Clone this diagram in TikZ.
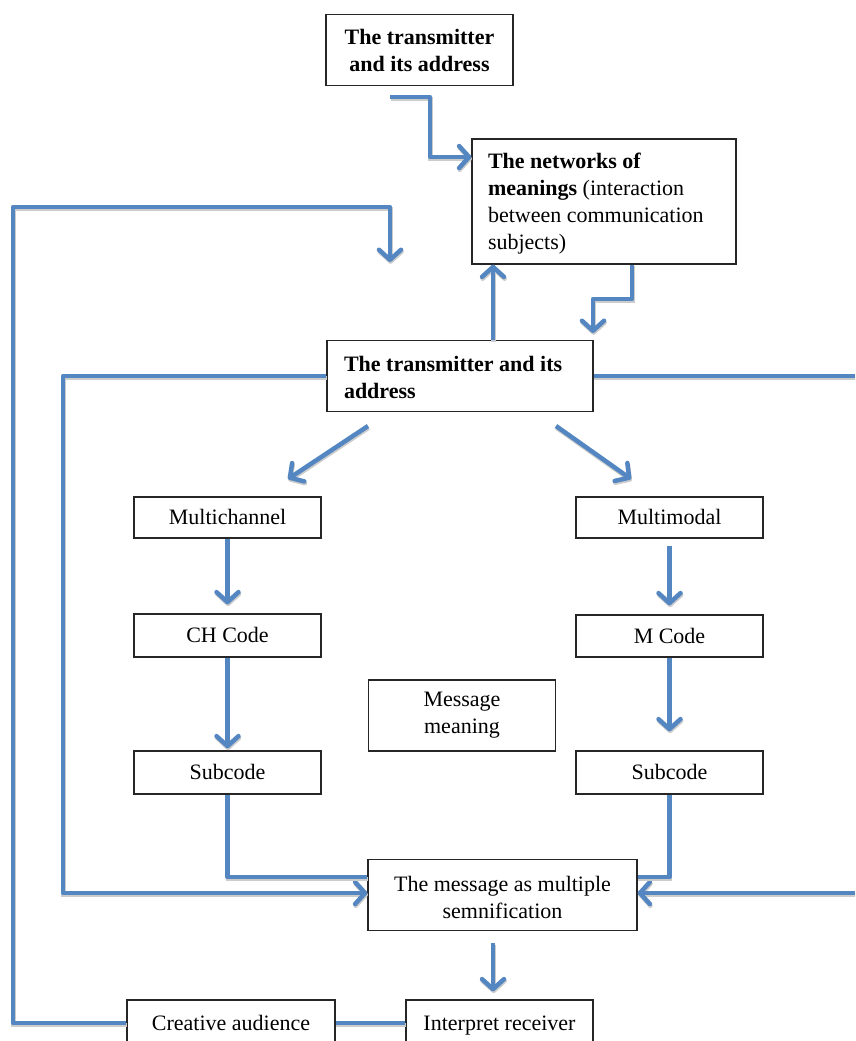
\documentclass[tikz,border=0pt]{standalone}
\usepackage{fontspec}
\setmainfont{Liberation Serif}
\usetikzlibrary{arrows.meta,calc}

\definecolor{flowblue}{RGB}{84,134,194}

\tikzset{
  box/.style={draw=black!85, line width=1.3pt, fill=white, rectangle,
    inner sep=0pt, align=center, font=\fontsize{22}{27}\selectfont},
  leftbox/.style={box, align=flush left},
  oneline/.style={text height=17pt, text depth=3pt},
  link/.style={draw=flowblue, line width=4.5pt, line join=round,
    preaction={draw=black!20, line width=4.5pt,
      transform canvas={shift={(0.6pt,-1.8pt)}}}},
  flow/.style={link, -{Straight Barb[length=10pt,width=22pt,line cap=round,line join=round]}},
}

\begin{document}
\begin{tikzpicture}[x=1pt,y=-1pt]
\clip (0,0) rectangle (855,1041);
\useasboundingbox (0,0) rectangle (855,1041);
\fill[white] (0,0) rectangle (855,1041);

% boxes
\node[box, minimum width=187pt, minimum height=71pt] (top) at (419.5,50)
  {\bfseries The transmitter\\\bfseries and its address};
\node[leftbox, minimum width=264pt, minimum height=125pt, text width=232pt] (net) at (604,201.5)
  {\rule{0pt}{20pt}\textbf{The networks of}\\\textbf{meanings} (interaction\\between communication\\subjects)};
\node[leftbox, minimum width=266pt, minimum height=71pt, text width=232pt] (tr) at (460,376)
  {\rule{0pt}{19pt}\textbf{The transmitter and its}\\\textbf{address}};
\node[box, oneline, minimum width=187pt, minimum height=41pt] (mch) at (227.5,517.5) {Multichannel};
\node[box, oneline, minimum width=187pt, minimum height=41pt] (mmd) at (669.5,517.5) {Multimodal};
\node[box, oneline, minimum width=187pt, minimum height=43pt] (chc) at (227.5,635.5) {CH Code};
\node[box, oneline, minimum width=187pt, minimum height=42pt] (mc) at (669.5,636) {M Code};
\node[box, minimum width=187pt, minimum height=71pt] (mm) at (462,715.5) {Message\\meaning};
\node[box, oneline, minimum width=187pt, minimum height=43pt] (subl) at (227.5,772.5) {Subcode};
\node[box, oneline, minimum width=187pt, minimum height=43pt] (subr) at (669.5,772.5) {Subcode};
\node[box, minimum width=269pt, minimum height=71pt] (msg) at (502.5,895)
  {\rule{0pt}{20pt}The message as multiple\\semnification};
\node[box, oneline, minimum width=208pt, minimum height=46pt] (cre) at (231,1023) {Creative audience};
\node[box, oneline, minimum width=187pt, minimum height=46pt] (int) at (499.5,1023) {Interpret receiver};

% free ends of the connectors
\coordinate (a0) at (390,97);
\coordinate (a1) at (430,157);
\coordinate (bl) at (13,207);
\coordinate (b1) at (390,262);
\coordinate (cx) at (493,0);
\coordinate (dx) at (632,0);
\coordinate (d1) at (593,299);
\coordinate (d2) at (593,333);
\coordinate (el) at (63,893);
\coordinate (fr) at (855,376);
\coordinate (fb) at (855,893);
\coordinate (g0) at (368,426);
\coordinate (g1) at (288,479);
\coordinate (h0) at (556,426);
\coordinate (h1) at (631,479);

% connectors
\draw[flow] (a0) -| (a1) -- (a1 -| net.west);
\draw[flow] (cre.west) -| (bl) -| (b1);
\draw[flow] (tr.north -| cx) -- (net.south -| cx);
\draw[flow] (net.south -| dx) |- (d1) -- (d2);
\draw[flow] (tr.west) -| (el) -- (el -| msg.west);
\path[link] (tr.east) -- (fr);
\draw[flow] (fb) -- (fb -| msg.east);
\draw[flow] (g0) -- (g1);
\draw[flow] (h0) -- (h1);
\draw[flow, shorten >=9pt] (mch.south) -- (chc.north);
\draw[flow, shorten <=7pt, shorten >=9pt] (mmd.south) -- (mc.north);
\draw[flow, shorten >=2pt] (chc.south) -- (subl.north);
\draw[flow, shorten >=19pt] (mc.south) -- (subr.north);
\path[link] (subl.south) |- ([yshift=18pt]msg.west);
\path[link] (subr.south) |- ([yshift=18pt]msg.east);
\draw[flow, shorten <=12pt, shorten >=8pt] (msg.south -| cx) -- (int.north -| cx);
\path[link] (cre.east) -- (int.west);
\end{tikzpicture}
\end{document}
